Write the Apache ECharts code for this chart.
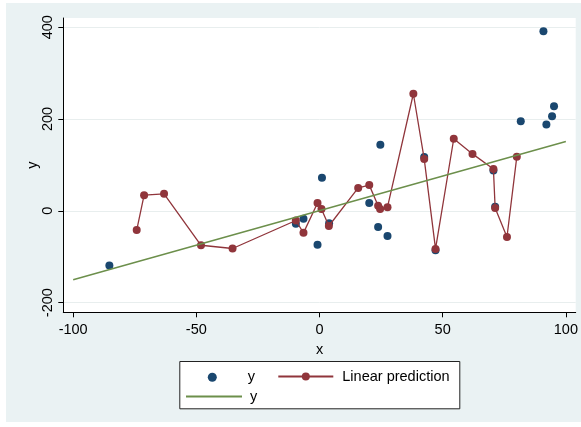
<!DOCTYPE html>
<html>
<head>
<meta charset="utf-8">
<script src="https://cdn.jsdelivr.net/npm/echarts@6/dist/echarts.min.js"></script>
<style>
html,body{margin:0;padding:0;background:#fff;width:581px;height:427px;overflow:hidden;}
#c{position:absolute;left:6px;top:3px;width:575px;height:419px;}
</style>
</head>
<body>
<div id="c"></div>
<script>
// observed y (scatter)
const obsX = [-85.3, -9.6, -6.5, -0.8, 1.0, 3.9, 20.2, 23.8, 24.7, 27.6, 42.5, 47.1, 70.6, 71.3, 81.7, 90.9, 92.1, 94.4, 95.2];
const obsY = [-119, -28, -17, -74, 72, -27, 17, -35, 144, -55, 117, -86, 88, 9, 195, 391, 188, 206, 228];
// linear prediction (connected)
const predX = [-74.2, -71.2, -63.1, -48.1, -35.3, -9.6, -6.5, -0.8, 0.8, 3.8, 15.7, 20.2, 23.8, 24.6, 27.6, 38.1, 42.5, 47.1, 54.5, 62.1, 70.6, 71.3, 76.1, 80.1];
const predY = [-42, 34, 37, -75, -82, -21, -48, 17, 4, -33, 50, 56, 11, 4, 8, 255, 113, -83, 157, 124, 91, 6, -57, 118];
// linear fit line
const fitX = [-100, 100];
const fitY = [-150, 151];
// ticks
const xTicks = [-100, -50, 0, 50, 100];
const yTicks = [-200, 0, 200, 400];

const FONT = "'Liberation Sans', Arial, sans-serif";
const NAVY = '#1A476F', MAROON = '#90353B', GREEN = '#6C8F4B';
const zip = (a, b) => a.map((v, i) => [v, b[i]]);

const chart = echarts.init(document.getElementById('c'), null, {renderer: 'canvas'});
const legendBase = {
  orient: 'horizontal', padding: 0, itemGap: 0,
  textStyle: {fontFamily: FONT, fontSize: 14.5, color: '#000'},
  selectedMode: false
};
chart.setOption({
  backgroundColor: '#EAF2F3',
  animation: false,
  grid: {left: 57.3, top: 15, right: 5.3, bottom: 109.7, show: true, backgroundColor: '#fff', borderWidth: 0},
  xAxis: {
    type: 'value', min: -104, max: 104,
    name: 'x', nameLocation: 'middle', nameGap: 23,
    nameTextStyle: {fontFamily: FONT, fontSize: 14.5, color: '#000'},
    axisLine: {onZero: false, lineStyle: {color: '#000', width: 1}},
    axisTick: {show: true, length: 5, customValues: xTicks, lineStyle: {color: '#000'}},
    axisLabel: {customValues: xTicks, margin: 10, fontFamily: FONT, fontSize: 14.5, color: '#000'},
    splitLine: {show: false}
  },
  yAxis: {
    type: 'value', min: -221, max: 420,
    name: 'y', nameLocation: 'middle', nameGap: 23, nameRotate: 90, nameMoveOverlap: false,
    nameTextStyle: {fontFamily: FONT, fontSize: 14.5, color: '#000'},
    axisLine: {show: true, onZero: false, lineStyle: {color: '#000', width: 1}},
    axisTick: {show: true, length: 5, customValues: yTicks, lineStyle: {color: '#000'}},
    axisLabel: {customValues: yTicks, rotate: 90, margin: 8, fontFamily: FONT, fontSize: 14.5, color: '#000'},
    splitLine: {show: true, lineStyle: {color: '#E8EEEE', width: 1}}
  },
  legend: [
    Object.assign({}, legendBase, {left: 201.8, top: 366.8, itemWidth: 9, itemHeight: 9,
      data: [{name: 'y'}], textStyle: Object.assign({}, legendBase.textStyle, {padding: [0, 0, 0, 26]})}),
    Object.assign({}, legendBase, {left: 271.3, top: 366, itemWidth: 55, itemHeight: 10,
      data: [{name: 'Linear prediction'}], textStyle: Object.assign({}, legendBase.textStyle, {padding: [0, 0, 0, 4]})}),
    Object.assign({}, legendBase, {left: 179, top: 386, itemWidth: 56, itemHeight: 10,
      data: [{name: 'fit', itemStyle: {opacity: 0}}], formatter: () => 'y',
      textStyle: Object.assign({}, legendBase.textStyle, {padding: [0, 0, 0, 3]})})
  ],
  graphic: [{
    type: 'rect', left: 173.3, top: 358, z: -1,
    shape: {width: 280, height: 47.3},
    style: {fill: '#fff', stroke: '#222', lineWidth: 1}
  }],
  series: [
    {name: 'y', type: 'scatter', data: zip(obsX, obsY), symbol: 'circle', symbolSize: 8,
      itemStyle: {color: NAVY, opacity: 1}, z: 2},
    {name: 'Linear prediction', type: 'line', data: zip(predX, predY), symbol: 'circle', symbolSize: 8,
      showSymbol: true, itemStyle: {color: MAROON}, lineStyle: {color: MAROON, width: 1.3}, z: 3},
    {name: 'fit', type: 'line', data: zip(fitX, fitY), symbol: 'none', showSymbol: false,
      itemStyle: {color: GREEN}, lineStyle: {color: GREEN, width: 1.5}, z: 4}
  ]
});
</script>
</body>
</html>
